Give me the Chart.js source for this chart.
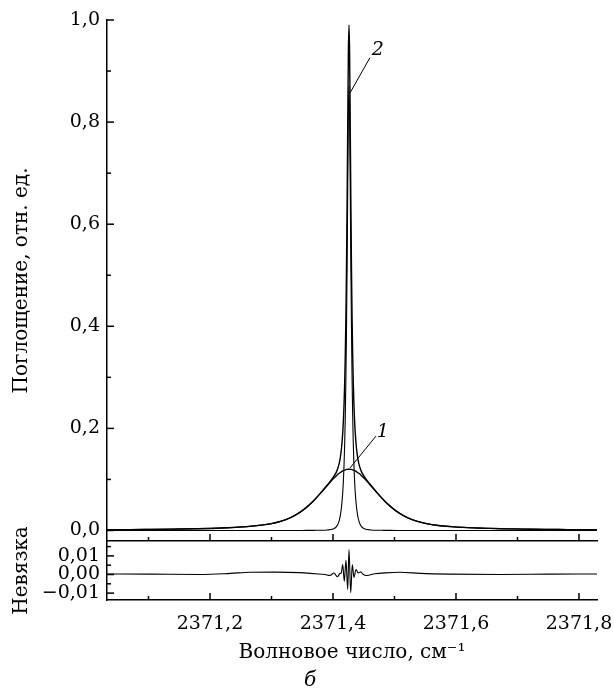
<!DOCTYPE html>
<html><head><meta charset="utf-8">
<script src="https://cdn.jsdelivr.net/npm/chart.js@4.4.0/dist/chart.umd.min.js"></script>
<style>
html,body{margin:0;padding:0;background:#fff;}
#wrap{position:relative;width:614px;height:693px;overflow:hidden;}
canvas{position:absolute;left:0;top:0;}
</style></head><body>
<div id="wrap"><canvas id="main" width="614" height="693"></canvas><canvas id="res" width="614" height="693"></canvas></div>
<script>
// ---- data ----
const wavenumber = [2371.030,2371.070,2371.100,2371.140,2371.180,2371.220,2371.260,2371.300,2371.316,2371.330,2371.340,2371.350,2371.360,2371.370,2371.380,2371.390,2371.400,2371.406,2371.410,2371.412,2371.414,2371.416,2371.417,2371.418,2371.419,2371.420,2371.421,2371.422,2371.423,2371.424,2371.425,2371.426,2371.427,2371.428,2371.429,2371.430,2371.431,2371.432,2371.433,2371.434,2371.435,2371.436,2371.438,2371.440,2371.442,2371.446,2371.452,2371.462,2371.472,2371.482,2371.492,2371.502,2371.512,2371.522,2371.536,2371.552,2371.572,2371.592,2371.612,2371.632,2371.652,2371.672,2371.692,2371.712,2371.732,2371.752,2371.782,2371.830];
const absorptionTotal = [0.0014,0.0017,0.0021,0.0027,0.0035,0.0050,0.0076,0.0134,0.0182,0.0246,0.0309,0.0388,0.0487,0.0603,0.0736,0.0880,0.1036,0.1158,0.1309,0.1437,0.1633,0.1947,0.2173,0.2479,0.2884,0.3438,0.4192,0.5195,0.6497,0.7999,0.9350,0.9900,0.9350,0.7999,0.6497,0.5195,0.4192,0.3438,0.2884,0.2479,0.2173,0.1947,0.1633,0.1437,0.1309,0.1158,0.1036,0.0880,0.0736,0.0603,0.0487,0.0388,0.0309,0.0246,0.0182,0.0134,0.0098,0.0076,0.0060,0.0050,0.0042,0.0035,0.0031,0.0027,0.0023,0.0021,0.0017,0.0013];
const absorptionLine1 = [0.0014,0.0017,0.0021,0.0027,0.0035,0.0050,0.0075,0.0133,0.0181,0.0245,0.0308,0.0387,0.0485,0.0600,0.0731,0.0870,0.1006,0.1078,0.1119,0.1137,0.1153,0.1167,0.1173,0.1179,0.1184,0.1188,0.1192,0.1195,0.1197,0.1199,0.1200,0.1200,0.1200,0.1199,0.1197,0.1195,0.1192,0.1188,0.1184,0.1179,0.1173,0.1167,0.1153,0.1137,0.1119,0.1078,0.1006,0.0870,0.0731,0.0600,0.0485,0.0387,0.0308,0.0245,0.0181,0.0133,0.0097,0.0075,0.0060,0.0050,0.0042,0.0035,0.0031,0.0027,0.0023,0.0021,0.0017,0.0013];
const absorptionLine2 = [0,0,0,0,0,0,0.0001,0.0001,0.0001,0.0001,0.0001,0.0001,0.0002,0.0003,0.0005,0.0010,0.0030,0.0080,0.0190,0.0300,0.0480,0.0780,0.1000,0.1300,0.1700,0.2250,0.3000,0.4000,0.5300,0.6800,0.8150,0.8700,0.8150,0.6800,0.5300,0.4000,0.3000,0.2250,0.1700,0.1300,0.1000,0.0780,0.0480,0.0300,0.0190,0.0080,0.0030,0.0010,0.0005,0.0003,0.0002,0.0001,0.0001,0.0001,0.0001,0.0001,0.0001,0.0001,0,0,0,0,0,0,0,0,0,0];
const residualWavenumber = [2371.030,2371.102,2371.184,2371.233,2371.265,2371.306,2371.346,2371.371,2371.387,2371.395,2371.4016,2371.407,2371.4114,2371.4135,2371.4158,2371.4184,2371.4211,2371.4239,2371.4260,2371.4288,2371.4314,2371.4341,2371.4374,2371.4411,2371.4450,2371.4493,2371.4548,2371.468,2371.485,2371.509,2371.542,2371.590,2371.672,2371.753,2371.830];
const residualValues = [0.0003,0.0002,0.0000,0.0006,0.0012,0.0013,0.0010,0.0004,0.0000,-0.0005,0.0008,-0.0012,0.0005,0.0010,0.0053,-0.0036,0.0077,-0.0080,0.0134,-0.0098,0.0053,-0.0016,0.0027,0.0009,0.0014,0.0000,-0.0005,0.0004,0.0009,0.0012,0.0006,0.0002,0.0000,0.0002,0.0003];

const xTickValues = [2371.2,2371.4,2371.6,2371.8];
const xTickLabels = ['2371,2','2371,4','2371,6','2371,8'];
const xMinorTicks = [2371.1,2371.3,2371.5,2371.7];
const mainYTickValues = [0,0.2,0.4,0.6,0.8,1.0];
const mainYTickLabels = ['0,0','0,2','0,4','0,6','0,8','1,0'];
const mainYMinorTicks = [0.1,0.3,0.5,0.7,0.9];
const resYTickValues = [-0.01,0,0.01];
const resYTickLabels = ['\u22120,01','0,00','0,01'];
const resYMinorTicks = [-0.005,0.005,0.015];

const curveLabelText = ['2','1'];
const curveLabelX = [2371.473,2371.481];
const curveLabelY = [0.941,0.193];
const leaderStartX = [2371.460,2371.470];
const leaderStartY = [0.926,0.185];
const leaderEndX = [2371.4276,2371.4276];
const leaderEndY = [0.857,0.1224];

const X_MIN = 2371.0325, X_MAX = 2371.8293;
const FONT = '"DejaVu Serif", "Liberation Serif", serif';

// ---- plugins ----
const innerTicks = {
  id: 'innerTicks',
  afterDraw(chart, args, o) {
    const ctx = chart.ctx, xs = chart.scales.x, ys = chart.scales.y, a = chart.chartArea;
    ctx.save();
    ctx.strokeStyle = '#000'; ctx.lineWidth = 1.5;
    const seg = (x1, y1, x2, y2) => { ctx.beginPath(); ctx.moveTo(x1, y1); ctx.lineTo(x2, y2); ctx.stroke(); };
    const xt = (vals, len) => vals.forEach(v => { const p = xs.getPixelForValue(v); if (p > a.left && p <= a.right) seg(p, a.bottom, p, a.bottom - len); });
    const yt = (vals, len) => vals.forEach(v => { const p = ys.getPixelForValue(v); if (p >= a.top - 0.5 && p <= a.bottom) seg(a.left, p, a.left + len, p); });
    xt(o.xMajor, 7); xt(o.xMinor, 4); yt(o.yMajor, 7); yt(o.yMinor, 4);
    ctx.restore();
  }
};
const curveNotes = {
  id: 'curveNotes',
  afterDatasetsDraw(chart) {
    const ctx = chart.ctx, xs = chart.scales.x, ys = chart.scales.y;
    ctx.save();
    ctx.strokeStyle = '#000'; ctx.lineWidth = 1;
    ctx.fillStyle = '#000';
    ctx.font = 'italic 19px ' + FONT;
    ctx.textAlign = 'center'; ctx.textBaseline = 'middle';
    curveLabelText.forEach((t, i) => {
      ctx.beginPath();
      ctx.moveTo(xs.getPixelForValue(leaderStartX[i]), ys.getPixelForValue(leaderStartY[i]));
      ctx.lineTo(xs.getPixelForValue(leaderEndX[i]), ys.getPixelForValue(leaderEndY[i]));
      ctx.stroke();
      ctx.fillText(t, xs.getPixelForValue(curveLabelX[i]), ys.getPixelForValue(curveLabelY[i]));
    });
    ctx.restore();
  }
};
const panelLetter = {
  id: 'panelLetter',
  afterDraw(chart) {
    const ctx = chart.ctx;
    ctx.save();
    ctx.fillStyle = '#000';
    ctx.font = 'italic 20px ' + FONT;
    ctx.textAlign = 'center'; ctx.textBaseline = 'middle';
    ctx.fillText('б', 310, 681);
    ctx.restore();
  }
};

const pts = (xs, ys) => xs.map((x, i) => ({x, y: ys[i]}));
const lineDs = (data, w) => ({data, borderColor: '#000', borderWidth: w, pointRadius: 0, fill: false, cubicInterpolationMode: 'monotone'});

const common = {
  responsive: false, animation: false,
  plugins: {legend: {display: false}, tooltip: {enabled: false}},
};

new Chart(document.getElementById('main'), {
  type: 'line',
  data: {datasets: [
    lineDs(pts(wavenumber, absorptionTotal), 1.4),
    lineDs(pts(wavenumber, absorptionLine1), 1.3),
    lineDs(pts(wavenumber, absorptionLine2), 1.1)
  ]},
  options: Object.assign({}, common, {
    layout: {padding: {left: 0, right: 17, top: 20, bottom: 152}},
    plugins: Object.assign({}, common.plugins, {innerTicks: {xMajor: xTickValues, xMinor: xMinorTicks, yMajor: mainYTickValues, yMinor: mainYMinorTicks}}),
    scales: {
      x: {type: 'linear', min: X_MIN, max: X_MAX,
        grid: {display: false, drawTicks: false}, ticks: {display: false},
        border: {display: true, color: '#000', width: 1.5},
        afterFit(s) { s.height = 0; s.paddingLeft = 0; s.paddingRight = 0; }},
      y: {type: 'linear', min: -0.0206, max: 1.0,
        grid: {display: false, drawTicks: false},
        border: {display: true, color: '#000', width: 1.5},
        afterBuildTicks(s) { s.ticks = mainYTickValues.map(v => ({value: v})); },
        ticks: {color: '#000', padding: 7, font: {family: FONT, size: 19}, callback: (v, i) => mainYTickLabels[i]},
        title: {display: true, text: 'Поглощение, отн. ед.', color: '#000', font: {family: FONT, size: 20}, padding: {top: 10, bottom: 0}},
        afterFit(s) { s.width = 107; s.paddingTop = 0; s.paddingBottom = 0; }}
    }
  }),
  plugins: [innerTicks, curveNotes]
});

new Chart(document.getElementById('res'), {
  type: 'line',
  data: {datasets: [lineDs(pts(residualWavenumber, residualValues), 1.1)]},
  options: Object.assign({}, common, {
    layout: {padding: {left: 0, right: 17, top: 541, bottom: 0}},
    plugins: Object.assign({}, common.plugins, {innerTicks: {xMajor: xTickValues, xMinor: xMinorTicks, yMajor: resYTickValues, yMinor: resYMinorTicks}}),
    scales: {
      x: {type: 'linear', min: X_MIN, max: X_MAX,
        grid: {display: false, drawTicks: false},
        border: {display: true, color: '#000', width: 1.5},
        afterBuildTicks(s) { s.ticks = xTickValues.map(v => ({value: v})); },
        ticks: {color: '#000', padding: 13, maxRotation: 0, autoSkip: false, font: {family: FONT, size: 19}, callback: (v, i) => xTickLabels[i]},
        title: {display: true, text: 'Волновое число, см\u207B\u00B9', color: '#000', font: {family: FONT, size: 20}, padding: {top: 0, bottom: 28}},
        afterFit(s) { s.height = 93; s.paddingLeft = 0; s.paddingRight = 0; }},
      y: {type: 'linear', min: -0.0137, max: 0.018,
        grid: {display: false, drawTicks: false},
        border: {display: true, color: '#000', width: 1.5},
        afterBuildTicks(s) { s.ticks = resYTickValues.map(v => ({value: v})); },
        ticks: {color: '#000', padding: 7, font: {family: FONT, size: 19}, callback: (v, i) => resYTickLabels[i]},
        title: {display: true, text: 'Невязка', color: '#000', font: {family: FONT, size: 20}, padding: {top: 10, bottom: 0}},
        afterFit(s) { s.width = 107; s.paddingTop = 0; s.paddingBottom = 0; }}
    }
  }),
  plugins: [innerTicks, panelLetter]
});
</script>
</body></html>
